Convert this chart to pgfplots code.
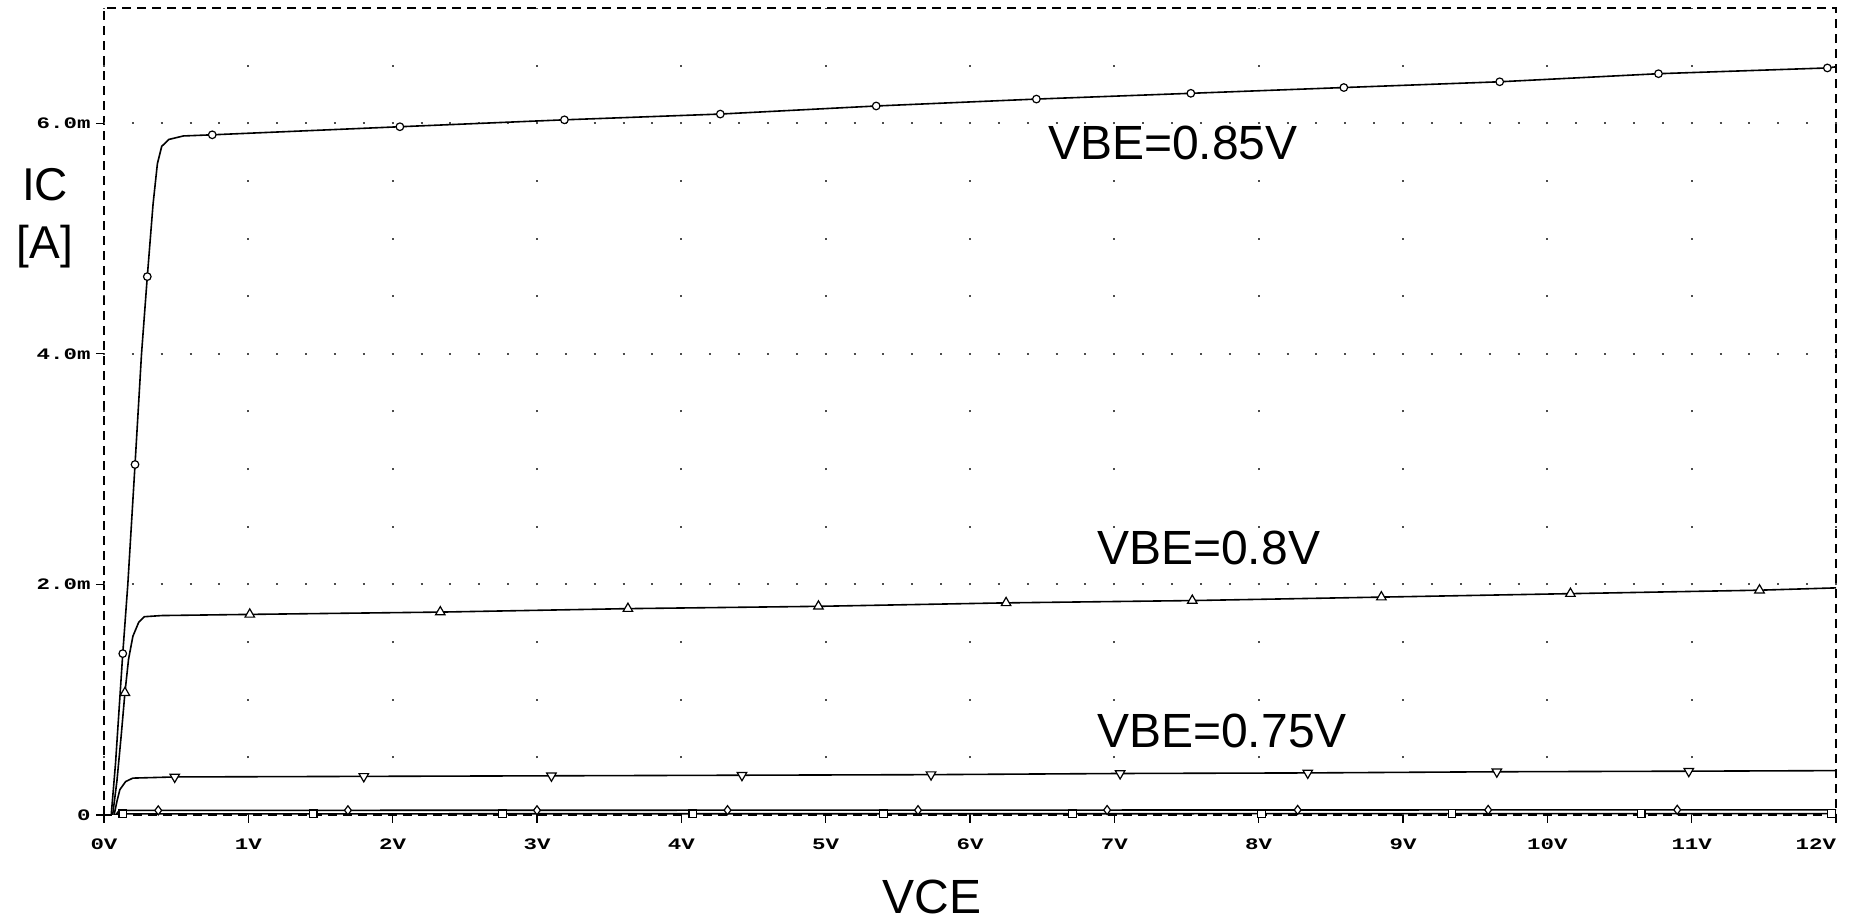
\documentclass[border=0pt]{standalone}
\usepackage{pgfplots}
\pgfplotsset{compat=1.18}
\usepackage{fontspec}
\setmainfont{Liberation Sans}
\newfontfamily\mono[FakeStretch=1.4]{Liberation Mono}

\begin{document}
\begin{tikzpicture}[x=1pt,y=1pt]
\path[use as bounding box] (0,0) rectangle (1852,923);
\begin{axis}[
  at={(104pt,108pt)}, anchor=south west,
  scale only axis, width=1732pt, height=807pt,
  xmin=0, xmax=12, ymin=0, ymax=7,
  xtick={0,1,2,3,4,5,6,7,8,9,10,11,12},
  xticklabels={0V,1V,2V,3V,4V,5V,6V,7V,8V,9V,10V,11V,\makebox[0pt][r]{12V}},
  ytick={0,2,4,6},
  yticklabels={0,2.0m,4.0m,6.0m},
  xtick pos=left, ytick pos=left,
  tick align=outside, major tick length=8pt,
  tick style={black, line width=1.2pt, solid},
  axis line style={black, line width=1.3pt, dash pattern=on 9pt off 6pt},
  /pgf/number format/assume math mode=true,
  ticklabel style={font=\mono\bfseries\fontsize{16}{16}\selectfont},
  xticklabel style={yshift=-12pt},
  yticklabel style={xshift=-2pt},
  xmajorgrids,
  major grid style={black!70, line width=2pt, dash pattern=on 2pt off 55.643pt, dash phase=1pt},
]
% dotted major rows
\draw[black!70, line width=2pt, dash pattern=on 2pt off 26.867pt, dash phase=1pt] (axis cs:0,2) -- (axis cs:12,2);
\draw[black!70, line width=2pt, dash pattern=on 2pt off 26.867pt, dash phase=1pt] (axis cs:0,4) -- (axis cs:12,4);
\draw[black!70, line width=2pt, dash pattern=on 2pt off 26.867pt, dash phase=1pt] (axis cs:0,6) -- (axis cs:12,6);

% VBE = 0.85 V
\addplot[black, line width=1.6pt, no marks] coordinates {
(0.05,0) (0.08,0.45) (0.13,1.40) (0.165,2.0) (0.215,3.04) (0.26,4.0) (0.30,4.67)
(0.34,5.3) (0.37,5.65) (0.40,5.8) (0.45,5.86) (0.55,5.89) (0.75,5.90) (2.05,5.97)
(3.19,6.03) (4.27,6.08) (5.35,6.15) (6.46,6.21) (7.53,6.26) (8.59,6.31) (9.67,6.36)
(10.77,6.43) (11.94,6.48) (12,6.49)};
\addplot[only marks, black, mark=*, mark size=3.8pt, mark options={fill=white, line width=1.2pt}] coordinates {
(0.13,1.40) (0.215,3.04) (0.30,4.67) (0.75,5.90) (2.05,5.97) (3.19,6.03) (4.27,6.08)
(5.35,6.15) (6.46,6.21) (7.53,6.26) (8.59,6.31) (9.67,6.36) (10.77,6.43) (11.94,6.48)};

% VBE = 0.8 V
\addplot[black, line width=1.6pt, no marks] coordinates {
(0.06,0) (0.09,0.3) (0.12,0.7) (0.145,1.06) (0.17,1.35) (0.2,1.55) (0.24,1.67)
(0.28,1.72) (0.4,1.73) (1.01,1.74) (2.33,1.76) (3.63,1.79) (4.95,1.81) (6.25,1.84)
(7.54,1.86) (8.85,1.89) (10.16,1.92) (11.47,1.95) (12,1.97)};
\addplot[only marks, black, mark=triangle*, mark size=5.5pt, mark options={fill=white, line width=1.2pt}] coordinates {
(0.145,1.06) (1.01,1.74) (2.33,1.76) (3.63,1.79) (4.95,1.81) (6.25,1.84)
(7.54,1.86) (8.85,1.89) (10.16,1.92) (11.47,1.95)};

% VBE = 0.75 V
\addplot[black, line width=1.6pt, no marks] coordinates {
(0.07,0) (0.09,0.12) (0.11,0.22) (0.15,0.29) (0.2,0.32) (0.49,0.33) (1.80,0.335)
(3.10,0.34) (4.42,0.345) (5.73,0.35) (7.04,0.36) (8.34,0.365) (9.65,0.375)
(10.98,0.38) (12,0.385)};
\addplot[only marks, black, mark=triangle*, mark size=5.5pt, mark options={rotate=180, fill=white, line width=1.2pt}] coordinates {
(0.49,0.33) (1.80,0.335) (3.10,0.34) (4.42,0.345) (5.73,0.35) (7.04,0.36)
(8.34,0.365) (9.65,0.375) (10.98,0.38)};

% VBE = 0.7 V
\addplot[black, line width=1.6pt, no marks] coordinates {
(0.08,0) (0.1,0.03) (0.15,0.04) (12,0.045)};
\addplot[only marks, black, mark=diamond*, mark size=4.5pt, mark options={fill=white, line width=1.2pt}] coordinates {
(0.376,0.04) (1.69,0.041) (3.0,0.041) (4.32,0.042) (5.64,0.042) (6.95,0.043)
(8.27,0.044) (9.59,0.044) (10.9,0.045)};

% VBE = 0.65 V
\addplot[black, line width=1.6pt, no marks] coordinates {
(0.08,0) (0.1,0.01) (12,0.012)};
\addplot[only marks, black, mark=square*, mark size=3.8pt, mark options={fill=white, line width=1.2pt}] coordinates {
(0.13,0.01) (1.45,0.01) (2.76,0.01) (4.08,0.011) (5.40,0.011) (6.71,0.011)
(8.02,0.011) (9.34,0.012) (10.65,0.012) (11.97,0.012)};

\node[anchor=west, font=\fontsize{48}{48}\selectfont, inner sep=0pt] at (axis cs:6.54,5.83) {VBE=0.85V};
\node[anchor=west, font=\fontsize{48}{48}\selectfont, inner sep=0pt] at (axis cs:6.88,2.32) {VBE=0.8V};
\node[anchor=west, font=\fontsize{48}{48}\selectfont, inner sep=0pt] at (axis cs:6.88,0.73) {VBE=0.75V};
\end{axis}
\node[font=\fontsize{46}{46}\selectfont] at (45,738) {IC};
\node[font=\fontsize{46}{46}\selectfont] at (45,676) {[A]};
\node[font=\fontsize{48}{48}\selectfont] at (932,26) {VCE};
\end{tikzpicture}
\end{document}
